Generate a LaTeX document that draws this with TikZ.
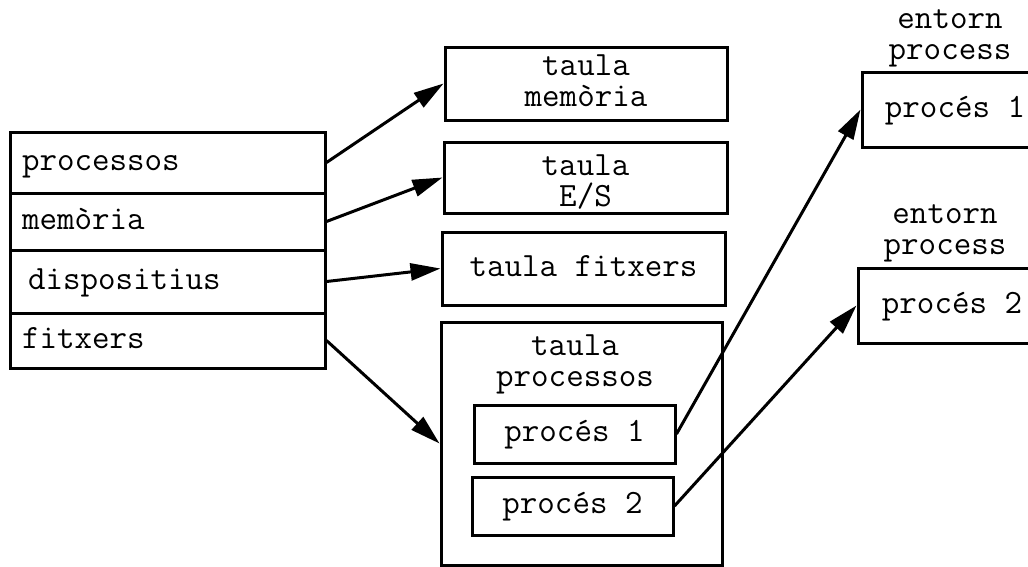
\documentclass[tikz,border=0pt]{standalone}
\usepackage{fontspec}
\usetikzlibrary{arrows.meta,positioning}

\begin{document}
\begin{tikzpicture}[x=1pt,y=-1pt,line width=3pt,
				every node/.style={font=\ttfamily\fontsize{34}{31}\selectfont},
				field/.style={rectangle,draw,minimum width=315pt,text width=291pt,align=left,inner xsep=12pt,inner ysep=0pt,text height=24pt,text depth=9pt},
				tbox/.style={rectangle,draw,align=center,inner sep=0pt},
				onel/.style={text height=24pt,text depth=9pt},
				plabel/.style={align=center,inner sep=0pt,text depth=0pt}
				]
				\tikzset{ptr/.style={-{Triangle[length=30pt,width=17pt]}}}
				\useasboundingbox (0,0) rectangle (1028,566);
				\node (f1) [field,minimum height=61pt] at (167.5,162.5) {processos};
				\node (f2) [field,minimum height=57pt] at (167.5,221.5) {memòria};
				\node (f3) [field,minimum height=63pt] at (167.5,281.5) {\hspace{6pt}dispositius};
				\node (f4) [field,minimum height=55pt] at (167.5,340.5) {fitxers};
				\node (tm) [tbox,minimum width=282pt,minimum height=73pt,text height=54pt,text depth=7.6pt] at (586,83.5) {taula\\memòria};
				\node (te) [tbox,minimum width=283pt,minimum height=71pt,text height=63pt,text depth=4.6pt] at (585.5,177.5) {taula\\E/S};
				\node (tf) [tbox,onel,minimum width=283pt,minimum height=73pt] at (583.5,268.5) {taula fitxers};
				\node (tp) [tbox,minimum width=281pt,minimum height=243pt] at (581.5,443.5) {};
				\node (tpl) [plabel,text height=47.4pt] at (575,363) {taula\\processos};
				\node (p1) [tbox,onel,minimum width=201pt,minimum height=58pt] at (574.5,434) {procés 1};
				\node (p2) [tbox,onel,minimum width=201pt,minimum height=58pt] at (572.5,506) {procés 2};
				\node (e1) [tbox,onel,minimum width=186pt,minimum height=75pt] at (955,109.5) {procés 1};
				\node (e2) [tbox,onel,minimum width=188pt,minimum height=75pt] at (952,305.5) {procés 2};
				\node (l1) [plabel,text height=46pt] at (950,36) {entorn\\process};
				\node (l2) [plabel,text height=44pt] at (945,232) {entorn\\process};
				\draw[ptr] (f1.east) -- (tm.west);
				\draw[ptr] (f2.east) -- (te.west);
				\draw[ptr] (f3.east) -- (tf.west);
				\draw[ptr] (f4.east) -- (tp.west);
				\draw[ptr] (p1.east) -- (e1.west);
				\draw[ptr] (p2.east) -- (e2.west);
\end{tikzpicture}
\end{document}
